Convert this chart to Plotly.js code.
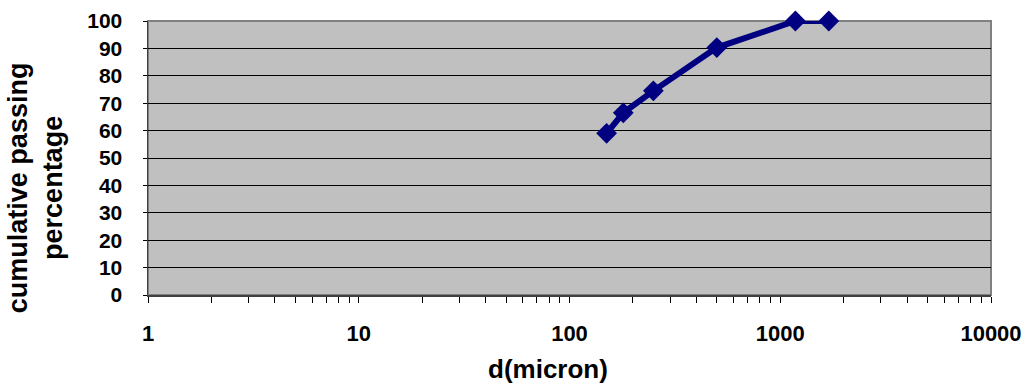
<!DOCTYPE html>
<html>
<head>
<meta charset="utf-8">
<script src="https://cdn.plot.ly/plotly-3.0.1.min.js"></script>
<style>html,body{margin:0;padding:0;background:#fff;}#chart{width:1025px;height:383px;}</style>
</head>
<body>
<div id="chart"></div>
<script>
// Data
const diameters = [150, 180, 250, 500, 1180, 1700];
const cumulativePassing = [59, 66.5, 74.5, 90.3, 100, 100];
const yTickValues = [0, 10, 20, 30, 40, 50, 60, 70, 80, 90, 100];
const xTitle = 'd(micron)';
const yTitle = 'cumulative passing<br>percentage';

const fontFam = 'Liberation Sans, Arial, sans-serif';

const trace = {
  x: diameters,
  y: cumulativePassing,
  type: 'scatter',
  mode: 'lines+markers',
  line: {color: '#000080', width: 6},
  marker: {symbol: 'diamond', size: 16, color: '#000080'},
  cliponaxis: false,
  hoverinfo: 'x+y',
  showlegend: false
};

const layout = {
  width: 1025,
  height: 383,
  margin: {l: 147.5, r: 34, t: 20.5, b: 88},
  paper_bgcolor: '#ffffff',
  plot_bgcolor: '#c0c0c0',
  font: {family: fontFam, color: '#000000'},
  xaxis: {
    type: 'log',
    range: [0, 4],
    tickmode: 'linear',
    tick0: 0,
    dtick: 1,
    tickformat: 'd',
    ticks: 'outside',
    ticklen: 6,
    tickcolor: '#000000',
    tickfont: {family: fontFam, size: 22, color: '#000000', weight: 'bold'},
    ticklabelstandoff: 12,
    showgrid: false,
    zeroline: false,
    showline: true,
    linecolor: '#404040',
    linewidth: 1.5,
    minor: {ticks: 'outside', ticklen: 6, tickcolor: '#000000', showgrid: false}
  },
  yaxis: {
    range: [0, 100],
    tickvals: yTickValues,
    ticks: 'outside',
    ticklen: 4,
    tickcolor: '#000000',
    tickfont: {family: fontFam, size: 21, color: '#000000', weight: 'bold'},
    ticklabelstandoff: 16,
    showgrid: true,
    gridcolor: '#000000',
    gridwidth: 1,
    zeroline: false,
    showline: true,
    linecolor: '#404040',
    linewidth: 1.5
  },
  shapes: [{
    type: 'rect', xref: 'paper', yref: 'paper', x0: 0, x1: 1, y0: 0, y1: 1,
    line: {color: '#808080', width: 2}, fillcolor: 'rgba(0,0,0,0)', layer: 'below'
  }],
  annotations: [
    {text: xTitle, xref: 'paper', yref: 'paper', x: 0.475, y: -0.27, xanchor: 'center', yanchor: 'middle',
     showarrow: false, font: {family: fontFam, size: 26, color: '#000000', weight: 'bold'}},
    {text: yTitle, xref: 'paper', yref: 'paper', x: -0.134, y: 0.39, xanchor: 'center', yanchor: 'middle',
     textangle: -90, showarrow: false, font: {family: fontFam, size: 27, color: '#000000', weight: 'bold'}}
  ]
};

Plotly.newPlot('chart', [trace], layout, {displayModeBar: false, staticPlot: true});
</script>
</body>
</html>
